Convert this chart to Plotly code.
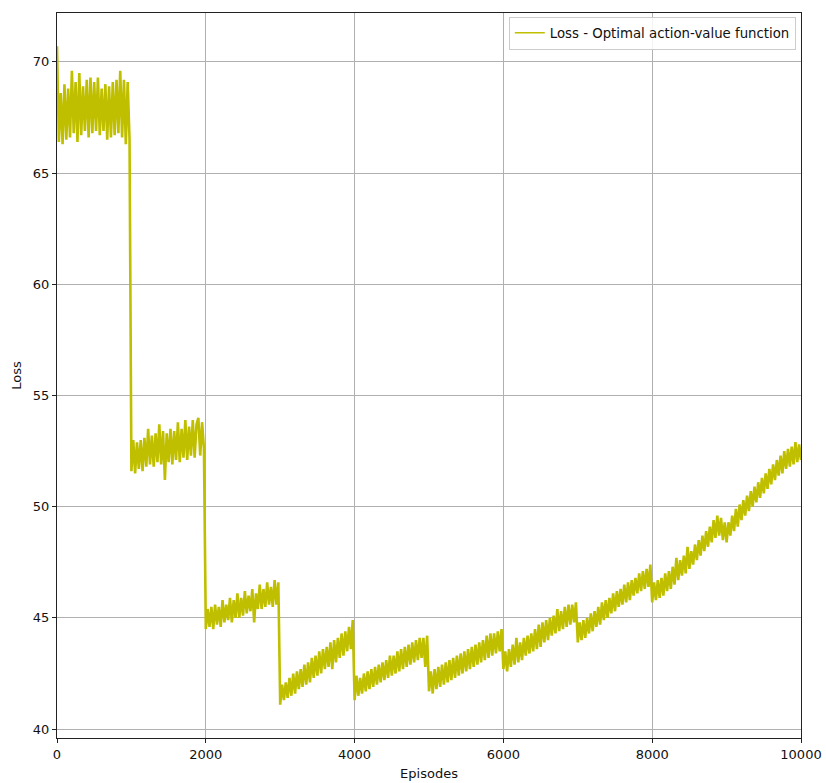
import plotly.graph_objects as go

# Loss values, one value every 25 episodes (zig-zag of band edges)
seg0 = [70.7, 66.4, 68.6, 66.3, 69.0, 66.5, 68.8, 66.6, 69.6, 66.8, 69.1, 66.4, 69.5, 66.7, 68.9, 66.9, 69.2, 66.6, 69.3, 66.8,
        69.1, 66.9, 69.3, 66.7, 68.8, 66.9, 69.0, 66.5, 68.9, 66.6, 69.1, 66.7, 69.2, 66.8, 69.6, 66.6, 69.2, 66.3, 69.1, 66.5]
seg1 = [51.6, 53.0, 51.5, 52.9, 51.7, 53.0, 51.6, 53.1, 51.8, 53.5, 51.9, 53.2, 51.8, 53.3, 52.0, 53.7, 51.9, 53.4, 51.2, 53.3,
        52.0, 53.5, 51.9, 53.4, 52.1, 53.8, 52.0, 53.5, 52.2, 53.9, 52.1, 53.6, 52.3, 53.9, 52.2, 53.7, 54.0, 52.3, 53.8, 52.6]
seg2 = [44.5, 45.4, 44.6, 45.5, 44.5, 45.6, 44.7, 45.5, 44.6, 45.8, 44.8, 45.6, 44.9, 45.9, 44.8, 45.8, 45.0, 46.1, 45.0, 45.9,
        45.1, 46.2, 45.2, 46.0, 45.3, 46.3, 44.8, 46.1, 45.4, 46.5, 45.4, 46.3, 45.5, 46.6, 45.6, 46.4, 45.5, 46.7, 45.6, 46.6]
seg3 = [41.1, 42.0, 41.3, 42.1, 41.4, 42.3, 41.5, 42.5, 41.6, 42.6, 41.8, 42.7, 41.9, 42.9, 42.0, 43.0, 42.1, 43.2, 42.3, 43.3,
        42.4, 43.5, 42.5, 43.6, 42.7, 43.7, 42.8, 43.9, 42.7, 44.0, 43.0, 44.1, 43.2, 44.3, 43.3, 44.4, 43.5, 44.6, 43.6, 44.9]
seg4 = [41.3, 42.4, 41.5, 42.3, 41.6, 42.5, 41.7, 42.6, 41.8, 42.7, 41.9, 42.8, 42.0, 42.9, 42.1, 43.0, 42.2, 43.1, 42.3, 43.3,
        42.4, 43.3, 42.5, 43.5, 42.6, 43.6, 42.7, 43.7, 42.8, 43.8, 42.9, 43.9, 43.0, 44.0, 43.1, 44.1, 43.2, 44.1, 42.8, 44.2]
seg5 = [41.7, 42.6, 41.6, 42.7, 41.8, 42.8, 41.9, 42.9, 42.0, 43.0, 42.1, 43.1, 42.2, 43.2, 42.3, 43.3, 42.4, 43.4, 42.5, 43.5,
        42.6, 43.6, 42.7, 43.7, 42.8, 43.8, 42.9, 43.9, 43.0, 44.0, 43.1, 44.2, 43.2, 44.3, 43.3, 44.3, 43.4, 44.4, 43.5, 44.5]
seg6 = [42.7, 43.5, 42.6, 43.6, 42.8, 43.8, 42.9, 44.1, 43.0, 43.9, 43.1, 44.1, 43.3, 44.2, 43.4, 44.3, 43.5, 44.5, 43.6, 44.7,
        43.7, 44.8, 43.9, 44.9, 44.0, 45.0, 44.2, 45.1, 44.3, 45.4, 44.4, 45.3, 44.5, 45.5, 44.6, 45.6, 44.7, 45.6, 44.8, 45.7]
seg7 = [43.9, 44.8, 44.0, 44.9, 44.1, 45.0, 44.3, 45.2, 44.4, 45.3, 44.6, 45.5, 44.7, 45.7, 44.9, 45.8, 45.0, 45.9, 45.2, 46.1,
        45.3, 46.2, 45.5, 46.3, 45.6, 46.5, 45.7, 46.6, 45.8, 46.7, 46.0, 46.8, 46.1, 47.0, 46.2, 47.1, 46.3, 47.2, 46.4, 47.4]
seg8 = [45.7, 46.6, 45.8, 46.7, 45.9, 46.8, 46.0, 47.0, 46.2, 47.1, 46.3, 47.3, 46.5, 47.7, 46.7, 47.6, 46.9, 47.8, 47.0, 48.2,
        47.2, 48.0, 47.4, 48.3, 47.6, 48.5, 47.8, 48.7, 48.0, 48.9, 48.2, 49.1, 48.4, 49.4, 48.6, 49.6, 48.7, 49.5, 48.5, 49.3]
seg9 = [48.4, 49.3, 48.7, 49.6, 48.9, 49.9, 49.1, 50.1, 49.4, 50.3, 49.6, 50.5, 49.8, 50.7, 50.0, 50.9, 50.2, 51.1, 50.4, 51.3,
        50.6, 51.5, 50.8, 51.7, 51.0, 51.9, 51.2, 52.1, 51.4, 52.3, 51.5, 52.5, 51.7, 52.6, 51.8, 52.7, 51.9, 52.9, 52.0, 52.8, 52.1]

loss = seg0 + seg1 + seg2 + seg3 + seg4 + seg5 + seg6 + seg7 + seg8 + seg9
episodes = [25 * i for i in range(len(loss))]

series_name = "Loss - Optimal action-value function"
x_ticks = [0, 2000, 4000, 6000, 8000, 10000]
x_tick_labels = ["0", "2000", "4000", "6000", "8000", "10000"]
y_ticks = [40, 45, 50, 55, 60, 65, 70]
y_tick_labels = ["40", "45", "50", "55", "60", "65", "70"]

fig = go.Figure()
fig.add_trace(go.Scatter(
    x=episodes, y=loss, mode="lines",
    name=series_name, showlegend=False, legendgroup="loss",
    line=dict(color="#bfbf00", width=2.6),
))
# legend entry with the thin line sample of the reference
fig.add_trace(go.Scatter(
    x=[None], y=[None], mode="lines",
    name=series_name, legendgroup="loss",
    line=dict(color="#bfbf00", width=1.5),
))

axis_common = dict(
    showline=True, linecolor="#222222", linewidth=1, mirror=True,
    ticks="outside", ticklen=4, tickcolor="#222222",
    showgrid=True, gridcolor="#b0b0b0", gridwidth=0.8,
    zeroline=False, automargin=False,
    tickfont=dict(family="DejaVu Sans", size=13, color="#111111"),
)

fig.update_layout(
    width=826, height=783,
    margin=dict(l=57, r=25, t=13, b=45),
    plot_bgcolor="white", paper_bgcolor="white",
    font=dict(family="DejaVu Sans", size=13, color="#111111"),
    showlegend=True,
    legend=dict(
        x=0.993, y=0.995, xanchor="right", yanchor="top",
        bgcolor="rgba(255,255,255,0.85)", bordercolor="#cccccc", borderwidth=1,
        font=dict(family="DejaVu Sans", size=13.3, color="#111111"),
    ),
    xaxis=dict(range=[0, 10000], tickvals=x_ticks, ticktext=x_tick_labels,
               title=dict(text="Episodes", standoff=8, font=dict(size=13)), **axis_common),
    yaxis=dict(range=[39.6, 72.2], tickvals=y_ticks, ticktext=y_tick_labels,
               title=dict(text="Loss", standoff=8, font=dict(size=13)), **axis_common),
)

fig.write_html("out.html")
